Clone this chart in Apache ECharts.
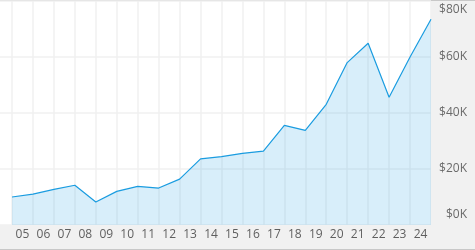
<!DOCTYPE html>
<html>
<head>
<meta charset="utf-8">
<script src="https://cdn.jsdelivr.net/npm/echarts@6/dist/echarts.min.js"></script>
<style>html,body{margin:0;padding:0;background:#f1f1f1;}#c{width:475px;height:250px;}</style>
</head>
<body>
<div id="c"></div>
<script>
const categories = ['05','06','07','08','09','10','11','12','13','14','15','16','17','18','19','20','21','22','23','24'];
const values = [10000, 11000, 12700, 14200, 8200, 12000, 13800, 13200, 16400, 23600, 24400, 25600, 26400, 35600, 33800, 43100, 58000, 64900, 45600, 60000, 73500];
const yTicks = [0, 20000, 40000, 60000, 80000];

const chart = echarts.init(document.getElementById('c'), null, {renderer: 'canvas'});
const fontFamily = '"Open Sans", "Noto Sans", sans-serif';
chart.setOption({
  backgroundColor: '#f1f1f1',
  animation: false,
  grid: [
    {left: 0, right: 44, top: 1, bottom: 25, show: true, backgroundColor: '#fff', borderWidth: 0, containLabel: false, outerBoundsMode: 'none'},
    {left: 12, right: 44, top: 1, bottom: 25, containLabel: false, outerBoundsMode: 'none'}
  ],
  xAxis: [
    {type: 'value', gridIndex: 0, min: 0, max: 1, show: false, position: 'top'},
    {type: 'value', gridIndex: 1, min: 0, max: values.length - 1, show: false, position: 'top'},
    {type: 'category', gridIndex: 1, data: categories, boundaryGap: true, position: 'bottom',
     axisLine: {show: false}, axisTick: {show: false},
     axisLabel: {interval: 0, color: '#5f5f5f', fontSize: 12, fontFamily: fontFamily, margin: 4},
     splitLine: {show: true, interval: 0, lineStyle: {color: '#f0f0f0', width: 1.5}}}
  ],
  yAxis: [
    {type: 'value', gridIndex: 0, position: 'right', min: 0, max: 80000, interval: 20000,
     axisLine: {show: false}, axisTick: {show: false},
     splitLine: {show: true, lineStyle: {color: '#f0f0f0', width: 1.5}},
     axisLabel: {color: '#6a6a6a', fontSize: 12, fontFamily: fontFamily, align: 'right', margin: 36,
       formatter: function (v) {
         const t = '$' + (v / 1000) + 'K';
         if (v === yTicks[0]) return '{lo|' + t + '}';
         if (v === yTicks[yTicks.length - 1]) return '{hi|' + t + '}';
         return '{mid|' + t + '}';
       },
       rich: {
         lo: {color: '#6a6a6a', fontSize: 12, fontFamily: fontFamily, padding: [0, 0, 20, 0]},
         hi: {color: '#6a6a6a', fontSize: 12, fontFamily: fontFamily, padding: [18, 0, 0, 0]},
         mid: {color: '#6a6a6a', fontSize: 12, fontFamily: fontFamily, padding: [0, 0, 1, 0]}
       }}},
    {type: 'value', gridIndex: 1, min: 0, max: 80000, show: false}
  ],
  series: [{
    type: 'line',
    xAxisIndex: 1, yAxisIndex: 1,
    data: values.map((v, i) => [i, v]),
    showSymbol: false,
    lineStyle: {color: '#1a9ce0', width: 1.2},
    itemStyle: {color: '#1a9ce0'},
    areaStyle: {color: 'rgba(40,160,228,0.18)', opacity: 1},
    z: 3
  }],
  graphic: [
    {type: 'rect', left: 0, top: 0, shape: {width: 475, height: 1}, style: {fill: '#c8c8c8'}, silent: true},
    {type: 'rect', left: 0, top: 249, shape: {width: 475, height: 1}, style: {fill: '#c8c8c8'}, silent: true}
  ]
});
</script>
</body>
</html>
